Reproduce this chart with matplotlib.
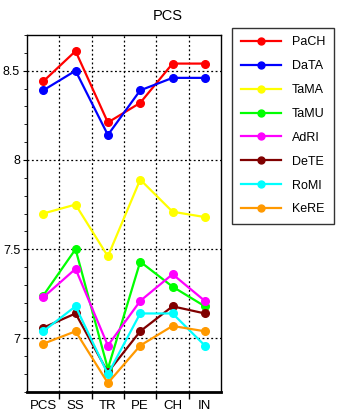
import numpy as np
import matplotlib
matplotlib.use("Agg")
import matplotlib.pyplot as plt
from matplotlib.ticker import MultipleLocator, FixedLocator, NullFormatter

plt.rcParams['font.family'] = ['Liberation Sans', 'DejaVu Sans']

categories = ["PCS", "SS", "TR", "PE", "CH", "IN"]
names = ["PaCH", "DaTA", "TaMA", "TaMU", "AdRI", "DeTE", "RoMI", "KeRE"]
colors = ["#ff0000", "#0000ff", "#ffff00", "#00ff00", "#ff00ff", "#800000", "#00ffff", "#ff9900"]

pach = [8.44, 8.61, 8.21, 8.32, 8.54, 8.54]
data = [8.39, 8.50, 8.14, 8.39, 8.46, 8.46]
tama = [7.70, 7.75, 7.46, 7.89, 7.71, 7.68]
tamu = [7.24, 7.50, 6.83, 7.43, 7.29, 7.18]
adri = [7.23, 7.39, 6.96, 7.21, 7.36, 7.21]
dete = [7.06, 7.14, 6.81, 7.04, 7.18, 7.14]
romi = [7.04, 7.18, 6.80, 7.14, 7.14, 6.96]
kere = [6.97, 7.04, 6.75, 6.96, 7.07, 7.04]
series = [pach, data, tama, tamu, adri, dete, romi, kere]

fig = plt.figure(figsize=(3.38, 4.17), dpi=100)
ax = fig.add_axes([0.080, 0.060, 0.574, 0.856])

x = np.arange(len(categories))
for name, vals, c in zip(names, series, colors):
    ax.plot(x, vals, color=c, lw=1.6, marker='o', ms=5.5, label=name)

ax.set_xlim(-0.5, len(categories) - 0.5)
ax.set_ylim(6.7, 8.7)

# category boundaries carry the ticks and grid, labels sit at the centres
ax.xaxis.set_major_locator(FixedLocator(np.arange(0.5, len(categories) - 0.5, 1)))
ax.xaxis.set_major_formatter(NullFormatter())
ax.xaxis.set_minor_locator(FixedLocator(x))
ax.set_xticklabels(categories, minor=True)
ax.tick_params(axis='x', which='major', length=5, width=1, direction='out')
ax.tick_params(axis='x', which='minor', length=0, pad=6, labelsize=9.5)

ax.yaxis.set_minor_locator(MultipleLocator(0.1))
ax.set_yticks([7, 7.5, 8, 8.5])
ax.set_yticklabels(["7", "7.5", "8", "8.5"])
ax.tick_params(axis='y', which='major', length=3, labelsize=9, pad=2)
ax.tick_params(axis='y', which='minor', length=2)

ax.grid(True, which='major', color='black', linestyle=(0, (1.5, 2)), lw=0.9)
ax.set_axisbelow(True)
for s in ax.spines.values():
    s.set_linewidth(1.0)
ax.spines['bottom'].set_linewidth(2.0)

fig.text(0.497, 0.962, "PCS", ha='center', va='center', fontsize=10.5)

leg = fig.legend(loc='upper left', bbox_to_anchor=(0.686, 0.934), fontsize=9,
                 frameon=True, fancybox=False, edgecolor='black', handlelength=3.2,
                 labelspacing=0.95, borderpad=0.7, handletextpad=0.9, borderaxespad=0)
leg.get_frame().set_linewidth(1.0)
for h in leg.legend_handles:
    h.set_markersize(5)

fig.savefig("out.png", dpi=100)
